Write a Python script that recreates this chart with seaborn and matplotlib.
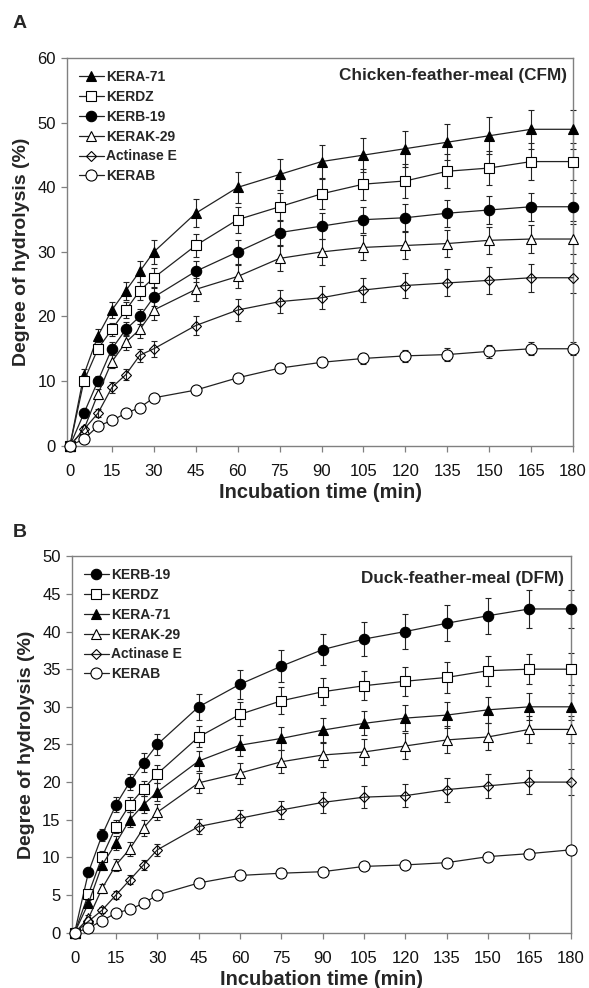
import matplotlib
matplotlib.use("Agg")
import matplotlib.pyplot as plt
import seaborn as sns

times = [0, 5, 10, 15, 20, 25, 30, 45, 60, 75, 90, 105, 120, 135, 150, 165, 180]

# panel A: chicken-feather-meal
cfm_kera71 = [0, 11, 17, 21, 24, 27, 30, 36, 40, 42, 44, 45, 46, 47, 48, 49, 49]
cfm_kerdz = [0, 10, 15, 18, 21, 24, 26, 31, 35, 37, 39, 40.5, 41, 42.5, 43, 44, 44]
cfm_kerb19 = [0, 5, 10, 15, 18, 20, 23, 27, 30, 33, 34, 35, 35.3, 36, 36.5, 37, 37]
cfm_kerak29 = [0, 2.5, 8, 13, 16, 18, 21, 24.2, 26.2, 29, 30, 30.7, 31, 31.3, 31.8, 32, 32]
cfm_actinase = [0, 2.5, 5, 9, 11, 14, 15, 18.6, 21, 22.3, 22.9, 24.1, 24.8, 25.2, 25.6, 26, 26]
cfm_kerab = [0, 1, 3, 3.9, 5, 5.9, 7.4, 8.6, 10.5, 12, 12.9, 13.5, 13.9, 14.1, 14.6, 15, 15]

cfm_kera71_err = [0, 0.8, 1.0, 1.2, 1.4, 1.6, 1.8, 2.2, 2.4, 2.4, 2.6, 2.6, 2.8, 2.8, 2.9, 3.0, 3.0]
cfm_kerdz_err = [0, 0.6, 0.8, 1.0, 1.2, 1.4, 1.5, 1.8, 2.0, 2.2, 2.3, 2.4, 2.6, 2.6, 2.7, 2.8, 2.9]
cfm_kerb19_err = [0, 0.5, 0.8, 1.0, 1.1, 1.2, 1.4, 1.6, 1.8, 1.9, 2.0, 2.0, 2.1, 2.1, 2.2, 2.2, 2.2]
cfm_kerak29_err = [0, 0.5, 0.8, 1.0, 1.2, 1.4, 1.5, 1.8, 1.8, 1.9, 2.0, 2.0, 2.1, 2.1, 2.1, 2.2, 2.3]
cfm_actinase_err = [0, 0.4, 0.6, 0.8, 0.9, 1.0, 1.2, 1.5, 1.7, 1.8, 1.8, 1.9, 2.0, 2.1, 2.1, 2.2, 2.3]
cfm_kerab_err = [0, 0.2, 0.3, 0.3, 0.3, 0.3, 0.4, 0.5, 0.6, 0.8, 0.8, 0.9, 0.9, 1.0, 1.0, 1.0, 1.0]

# panel B: duck-feather-meal
dfm_kerb19 = [0, 8, 13, 17, 20, 22.6, 25, 30, 33, 35.4, 37.6, 39, 40, 41.1, 42.1, 43, 43]
dfm_kerdz = [0, 5.1, 10.1, 14.1, 17, 19.1, 21.1, 26, 29, 30.8, 32, 32.8, 33.4, 33.9, 34.8, 35, 35]
dfm_kera71 = [0, 3.9, 9, 11.9, 15, 17, 18.7, 22.8, 24.9, 25.8, 26.9, 27.8, 28.5, 28.9, 29.6, 30, 30]
dfm_kerak29 = [0, 1.9, 5.9, 9, 11.1, 13.9, 16, 19.9, 21.2, 22.7, 23.6, 24, 24.8, 25.6, 26, 27, 27]
dfm_actinase = [0, 1.5, 3, 5, 7, 9, 11, 14.1, 15.2, 16.3, 17.3, 18, 18.2, 19, 19.5, 20, 20]
dfm_kerab = [0, 0.6, 1.6, 2.6, 3.1, 3.9, 5, 6.6, 7.6, 7.9, 8.1, 8.8, 9, 9.3, 10.1, 10.5, 11]

dfm_kerb19_err = [0, 0.5, 0.8, 1.0, 1.1, 1.2, 1.4, 1.7, 1.9, 2.1, 2.1, 2.2, 2.3, 2.4, 2.4, 2.5, 2.5]
dfm_kerdz_err = [0, 0.5, 0.7, 0.9, 1.0, 1.0, 1.2, 1.4, 1.6, 1.8, 1.8, 1.9, 1.9, 2.0, 2.0, 2.0, 2.1]
dfm_kera71_err = [0, 0.5, 0.7, 0.9, 1.0, 1.1, 1.2, 1.3, 1.4, 1.5, 1.6, 1.6, 1.7, 1.7, 1.7, 1.8, 1.8]
dfm_kerak29_err = [0, 0.4, 0.6, 0.8, 0.9, 1.0, 1.1, 1.3, 1.4, 1.5, 1.6, 1.7, 1.7, 1.8, 1.8, 1.8, 1.8]
dfm_actinase_err = [0, 0.3, 0.4, 0.5, 0.6, 0.7, 0.8, 1.0, 1.1, 1.2, 1.4, 1.5, 1.5, 1.6, 1.6, 1.6, 1.7]
dfm_kerab_err = [0, 0.1, 0.2, 0.2, 0.2, 0.2, 0.3, 0.3, 0.3, 0.3, 0.3, 0.3, 0.3, 0.3, 0.4, 0.4, 0.5]

# marker style per enzyme: (marker, face colour, size)
styles = {
    "KERA-71": ("^", "black", 7.5),
    "KERDZ": ("s", "white", 7.5),
    "KERB-19": ("o", "black", 7.5),
    "KERAK-29": ("^", "white", 7.5),
    "Actinase E": ("D", "none", 5),
    "KERAB": ("o", "white", 8),
}

panel_a = [
    ("KERA-71", cfm_kera71, cfm_kera71_err),
    ("KERDZ", cfm_kerdz, cfm_kerdz_err),
    ("KERB-19", cfm_kerb19, cfm_kerb19_err),
    ("KERAK-29", cfm_kerak29, cfm_kerak29_err),
    ("Actinase E", cfm_actinase, cfm_actinase_err),
    ("KERAB", cfm_kerab, cfm_kerab_err),
]
panel_b = [
    ("KERB-19", dfm_kerb19, dfm_kerb19_err),
    ("KERDZ", dfm_kerdz, dfm_kerdz_err),
    ("KERA-71", dfm_kera71, dfm_kera71_err),
    ("KERAK-29", dfm_kerak29, dfm_kerak29_err),
    ("Actinase E", dfm_actinase, dfm_actinase_err),
    ("KERAB", dfm_kerab, dfm_kerab_err),
]

sns.set_style("ticks")
plt.rcParams["font.family"] = ["Liberation Sans", "DejaVu Sans"]

fig = plt.figure(figsize=(5.89, 9.88), dpi=100)
ax_a = fig.add_axes([0.114, 0.549, 0.859, 0.392])
ax_b = fig.add_axes([0.122, 0.056, 0.847, 0.381])

spine_col = "#808080"


def draw_panel(ax, series, ymax, ystep, title, title_y):
    for name, vals, errs in series:
        marker, face, size = styles[name]
        ax.errorbar(times, vals, yerr=errs, fmt="none", ecolor="#222222",
                    elinewidth=0.8, capsize=2, capthick=0.8, zorder=2, clip_on=False)
        sns.lineplot(x=times, y=vals, ax=ax, color="#222222", linewidth=0.9,
                     marker=marker, markersize=size, markerfacecolor=face,
                     markeredgecolor="black", markeredgewidth=0.8,
                     label=name, zorder=3, clip_on=False)
    ax.set_xlim(-1, 180)
    ax.set_ylim(0, ymax)
    ax.set_xticks(range(0, 181, 15))
    ax.set_yticks(range(0, ymax + 1, ystep))
    ax.tick_params(labelsize=12, colors=spine_col, labelcolor="#111111",
                   length=4, width=0.9, direction="out")
    ax.tick_params(axis="x", pad=9)
    ax.tick_params(axis="y", pad=4)
    for sp in ax.spines.values():
        sp.set_color(spine_col)
        sp.set_linewidth(1)
    ax.set_xlabel("Incubation time (min)", fontsize=14.5, fontweight="bold", labelpad=3)
    ax.set_ylabel("Degree of hydrolysis (%)", fontsize=14, fontweight="bold", labelpad=5)
    ax.text(0.987, title_y, title, transform=ax.transAxes, ha="right", va="top",
            fontsize=12.3, fontweight="bold")
    ax.legend(loc="upper left", frameon=False,
              handlelength=1.8, handletextpad=0.15, labelspacing=0.42,
              borderaxespad=0.45, prop={"weight": "bold", "size": 10})


draw_panel(ax_a, panel_a, 60, 10, "Chicken-feather-meal (CFM)", 0.975)
draw_panel(ax_b, panel_b, 50, 5, "Duck-feather-meal (DFM)", 0.96)

fig.text(0.022, 0.976, "A", fontsize=14, fontweight="bold", va="center")
fig.text(0.022, 0.461, "B", fontsize=14, fontweight="bold", va="center")

plt.savefig("out.png", dpi=100)
